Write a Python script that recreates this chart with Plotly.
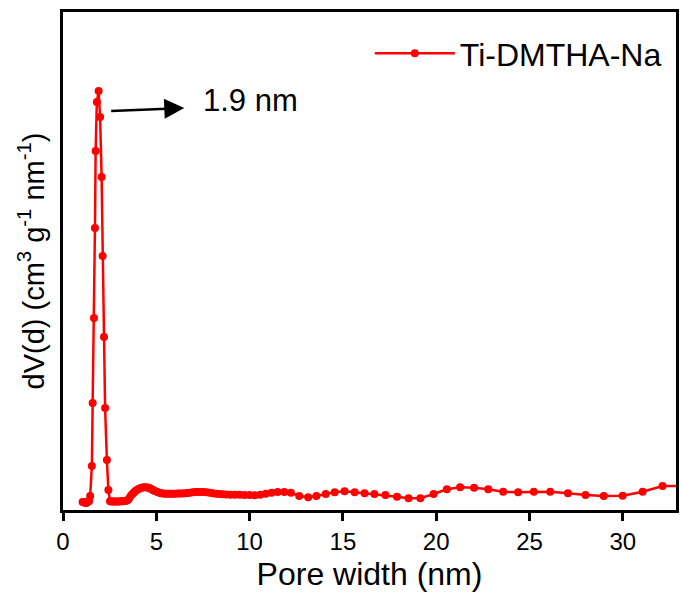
import plotly.graph_objects as go

# Pore width (nm)
pore_width = [
    1.05, 1.12, 1.19, 1.26, 1.33, 1.40, 1.456, 1.547, 1.589, 1.659, 1.712, 1.749, 1.813, 1.909,
    1.989, 2.069, 2.123, 2.197, 2.256, 2.352, 2.432,
    2.52, 2.60, 2.68, 2.76, 2.84, 2.92, 3.00, 3.08, 3.16, 3.24, 3.32, 3.40, 3.48, 3.56, 3.64,
    3.72, 3.80, 3.88, 3.96, 4.05, 4.14, 4.23, 4.32, 4.41, 4.50, 4.59, 4.68, 4.77, 4.86, 4.96,
    5.06, 5.16, 5.26, 5.36, 5.47, 5.58, 5.69, 5.80, 5.92, 6.04, 6.16, 6.28, 6.41, 6.54, 6.67,
    6.81, 6.95, 7.09, 7.24, 7.39, 7.54, 7.70, 7.86, 8.03, 8.20, 8.38, 8.56, 8.75, 8.98, 9.22,
    9.47, 9.73, 10.00, 10.28, 10.57, 10.87, 11.18, 11.50, 11.86, 12.21, 12.66, 13.14, 13.58,
    14.08, 14.56, 15.09, 15.63, 16.16, 16.69, 17.28, 17.90, 18.52, 19.15, 19.86, 20.57, 21.28,
    22.03, 22.79, 23.59, 24.39, 25.23, 26.11, 27.06, 28.00, 28.98, 29.99, 31.06, 32.13, 33.20,
]

# dV(d) (cm3 g-1 nm-1)
dv = [
    0.008, 0.008, 0.007, 0.007, 0.008, 0.009, 0.014, 0.044, 0.107, 0.192, 0.282, 0.359, 0.408, 0.419,
    0.393, 0.333, 0.254, 0.173, 0.102, 0.050, 0.020,
    0.0087, 0.0086, 0.0086, 0.0085, 0.0085, 0.0086, 0.0086, 0.0087, 0.0087, 0.0088, 0.0090, 0.0093,
    0.0100, 0.0120, 0.0145,
    0.0160, 0.0175, 0.0190, 0.0200, 0.0210, 0.0218, 0.0223, 0.0227, 0.0228, 0.0226, 0.0222, 0.0215,
    0.0205, 0.0195, 0.0187,
    0.0180, 0.0173, 0.0168, 0.0165, 0.0163, 0.0162, 0.0162, 0.0162, 0.0163, 0.0163, 0.0164, 0.0165,
    0.0166, 0.0168, 0.0170,
    0.0173, 0.0177, 0.0180, 0.0181, 0.0181, 0.0180, 0.0178, 0.0173, 0.0168, 0.0163, 0.0160, 0.0157,
    0.0155, 0.0153, 0.0153,
    0.0152, 0.0151, 0.0149, 0.0147, 0.0152, 0.0162, 0.0172, 0.0180, 0.0180, 0.0172, 0.0140, 0.0127,
    0.0140,
    0.0160, 0.0177, 0.0187, 0.0177, 0.0167, 0.0160, 0.0150, 0.0133, 0.0117, 0.0117, 0.0160, 0.0207,
    0.0227,
    0.0223, 0.0207, 0.0183, 0.0177, 0.0183, 0.0183, 0.0167, 0.0150, 0.0140, 0.0143, 0.0183, 0.0240,
    0.0240,
]

series_name = "Ti-DMTHA-Na"
x_ticks = [0, 5, 10, 15, 20, 25, 30]
peak_label = "1.9 nm"

FONT = "Arial, 'Liberation Sans', sans-serif"
RED = "#ff0000"

fig = go.Figure()
fig.add_trace(go.Scatter(
    x=pore_width, y=dv, name=series_name, mode="lines+markers",
    line=dict(color=RED, width=2.5),
    marker=dict(color=RED, size=8, symbol="circle", line=dict(width=0)),
    cliponaxis=True,
))

fig.add_annotation(
    x=6.5, y=0.402, ax=2.5, ay=0.399, xref="x", yref="y", axref="x", ayref="y",
    text="", showarrow=True, arrowhead=2, arrowsize=1.6, arrowwidth=2.5, arrowcolor="black",
)
fig.add_annotation(
    x=7.4, y=0.410, xref="x", yref="y", text=peak_label, showarrow=False,
    xanchor="left", yanchor="middle", font=dict(family=FONT, size=31, color="black"),
)

fig.update_layout(
    width=681, height=597,
    margin=dict(l=63, r=2, t=12, b=87),
    paper_bgcolor="white", plot_bgcolor="white",
    showlegend=True,
    legend=dict(
        x=0.985, y=0.972, xanchor="right", yanchor="top",
        font=dict(family=FONT, size=32, color="black"),
        bgcolor="rgba(0,0,0,0)", itemwidth=80,
    ),
    font=dict(family=FONT, color="black"),
)
fig.update_xaxes(
    range=[0, 32.85], tickvals=x_ticks, ticktext=[str(t) for t in x_ticks],
    ticks="outside", ticklen=8, tickwidth=2.5, tickcolor="black",
    tickfont=dict(family=FONT, size=24, color="black"),
    showline=True, linewidth=2.5, linecolor="black", mirror=True,
    showgrid=False, zeroline=False,
    title=dict(text="Pore width (nm)", font=dict(family=FONT, size=32, color="black"), standoff=10),
)
fig.update_yaxes(
    range=[0, 0.498], showticklabels=False, ticks="",
    showline=True, linewidth=2.5, linecolor="black", mirror=True,
    showgrid=False, zeroline=False,
    title=dict(text="dV(d) (cm<sup>3</sup> g<sup>-1</sup> nm<sup>-1</sup>)",
               font=dict(family=FONT, size=29, color="black"), standoff=8),
)

fig.write_html("out.html")
